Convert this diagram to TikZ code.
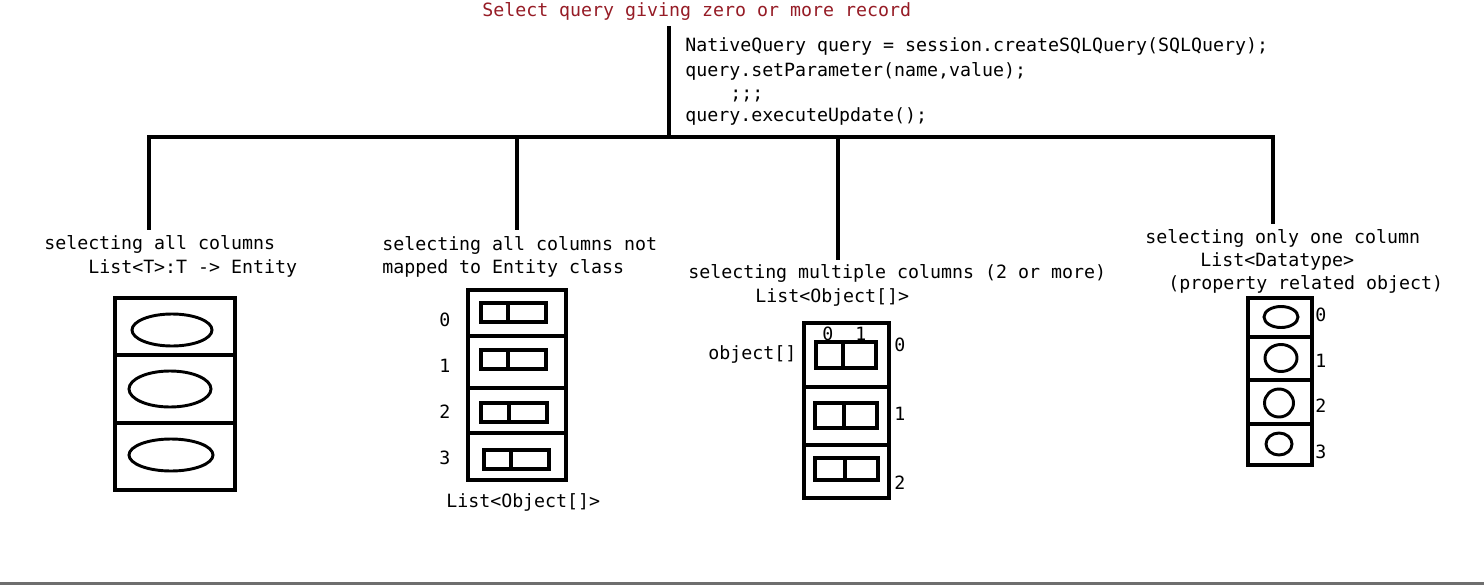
\documentclass[tikz,border=0pt]{standalone}
\usepackage{fontspec}
\newfontfamily\mono{DejaVu Sans Mono}
\definecolor{titlered}{RGB}{150,28,38}
\definecolor{barGray}{RGB}{110,110,110}
\tikzset{
  txt/.style={font=\mono\fontsize{13.7}{16}\selectfont, anchor=base west, inner sep=0pt, text=black},
  heavy/.style={line width=2.6pt, line cap=rect},
  boxline/.style={line width=2.5pt},
  oval/.style={line width=2.2pt},
}
\begin{document}
\begin{tikzpicture}[x=0.75pt,y=-0.75pt]
\useasboundingbox (0,0) rectangle (1484,585);
\fill[white] (0,0) rectangle (1484,585);
\fill[barGray] (0,581.5) rectangle (1484,585);

% title and code
\node[txt, text=titlered] (title) at (482,17) {Select query giving zero or more record};
\node[txt] (c1) at (685,52) {NativeQuery query = session.createSQLQuery(SQLQuery);};
\node[txt] (c2) at (685,76) {query.setParameter(name,value);};
\node[txt] (c3) at (730,99) {;;;};
\node[txt] (c4) at (685,121) {query.executeUpdate();};

% tree
\coordinate (top) at (669,28);
\coordinate (mid) at (669,137);
\coordinate (bl) at (149,137);
\coordinate (br) at (1273,137);
\coordinate (b1) at (517,137);
\coordinate (b2) at (838,137);
\coordinate (d0) at (149,228);
\coordinate (d1) at (517,228);
\coordinate (d2) at (838,258);
\coordinate (d3) at (1273,222);
\draw[heavy] (top) -- (mid);
\draw[heavy] (bl) -- (br);
\draw[heavy] (bl) -- (d0);
\draw[heavy] (b1) -- (d1);
\draw[heavy] (b2) -- (d2);
\draw[heavy] (br) -- (d3);

% panel 1
\node[txt] (p1a) at (44,249) {selecting all columns};
\node[txt] (p1b) at (88,273) {List<T>:T -> Entity};
\draw[boxline] (115,298) rectangle (235,490);
\draw[boxline] (115,355) -- (235,355);
\draw[boxline] (115,423) -- (235,423);
\draw[oval] (172,330) ellipse [x radius=40, y radius=16];
\draw[oval] (170,389) ellipse [x radius=41, y radius=18];
\draw[oval] (171,455) ellipse [x radius=42, y radius=16];

% panel 2
\node[txt] (p2a) at (382,250) {selecting all columns not};
\node[txt] (p2b) at (382,273) {mapped to Entity class};
\draw[boxline] (468,290) rectangle (566,480);
\draw[boxline] (468,336) -- (566,336);
\draw[boxline] (468,388) -- (566,388);
\draw[boxline] (468,433) -- (566,433);
\draw[boxline] (481,303) rectangle (546,322); \draw[boxline] (508,303) -- (508,322);
\draw[boxline] (481,350) rectangle (546,369); \draw[boxline] (508,350) -- (508,369);
\draw[boxline] (481,403) rectangle (547,422); \draw[boxline] (509,403) -- (509,422);
\draw[boxline] (484,450) rectangle (549,469); \draw[boxline] (511,450) -- (511,469);
\node[txt] (n20) at (439,326) {0};
\node[txt] (n21) at (439,372) {1};
\node[txt] (n22) at (439,418) {2};
\node[txt] (n23) at (439,464) {3};
\node[txt] (p2c) at (446,507) {List<Object[]>};

% panel 3
\node[txt] (p3a) at (688,278) {selecting multiple columns (2 or more)};
\node[txt] (p3b) at (755,302) {List<Object[]>};
\draw[boxline] (804,323) rectangle (889,498);
\draw[boxline] (804,387) -- (889,387);
\draw[boxline] (804,445) -- (889,445);
\draw[boxline] (816,342) rectangle (876,368); \draw[boxline] (843,342) -- (843,368);
\draw[boxline] (815,403) rectangle (877,428); \draw[boxline] (844,403) -- (844,428);
\draw[boxline] (815,458) rectangle (878,480); \draw[boxline] (845,458) -- (845,480);
\node[txt] (i0) at (822,340) {0};
\node[txt] (i1) at (855,340) {1};
\node[txt] (obj) at (708,359) {object[]};
\node[txt] (n30) at (894,351) {0};
\node[txt] (n31) at (894,420) {1};
\node[txt] (n32) at (894,489) {2};

% panel 4
\node[txt] (p4a) at (1145,243) {selecting only one column};
\node[txt] (p4b) at (1200,266) {List<Datatype>};
\node[txt] (p4c) at (1168,289) {(property related object)};
\draw[boxline] (1248,298) rectangle (1312,465);
\draw[boxline] (1248,337) -- (1312,337);
\draw[boxline] (1248,380) -- (1312,380);
\draw[boxline] (1248,424) -- (1312,424);
\draw[oval] (1281,317) ellipse [x radius=17, y radius=10.5];
\draw[oval] (1281,358) ellipse [x radius=16, y radius=13.5];
\draw[oval] (1279,403) ellipse [x radius=14.5, y radius=14];
\draw[oval] (1279,444) ellipse [x radius=13, y radius=11];
\node[txt] (n40) at (1315,321) {0};
\node[txt] (n41) at (1315,367) {1};
\node[txt] (n42) at (1315,412) {2};
\node[txt] (n43) at (1315,458) {3};
\end{tikzpicture}
\end{document}
